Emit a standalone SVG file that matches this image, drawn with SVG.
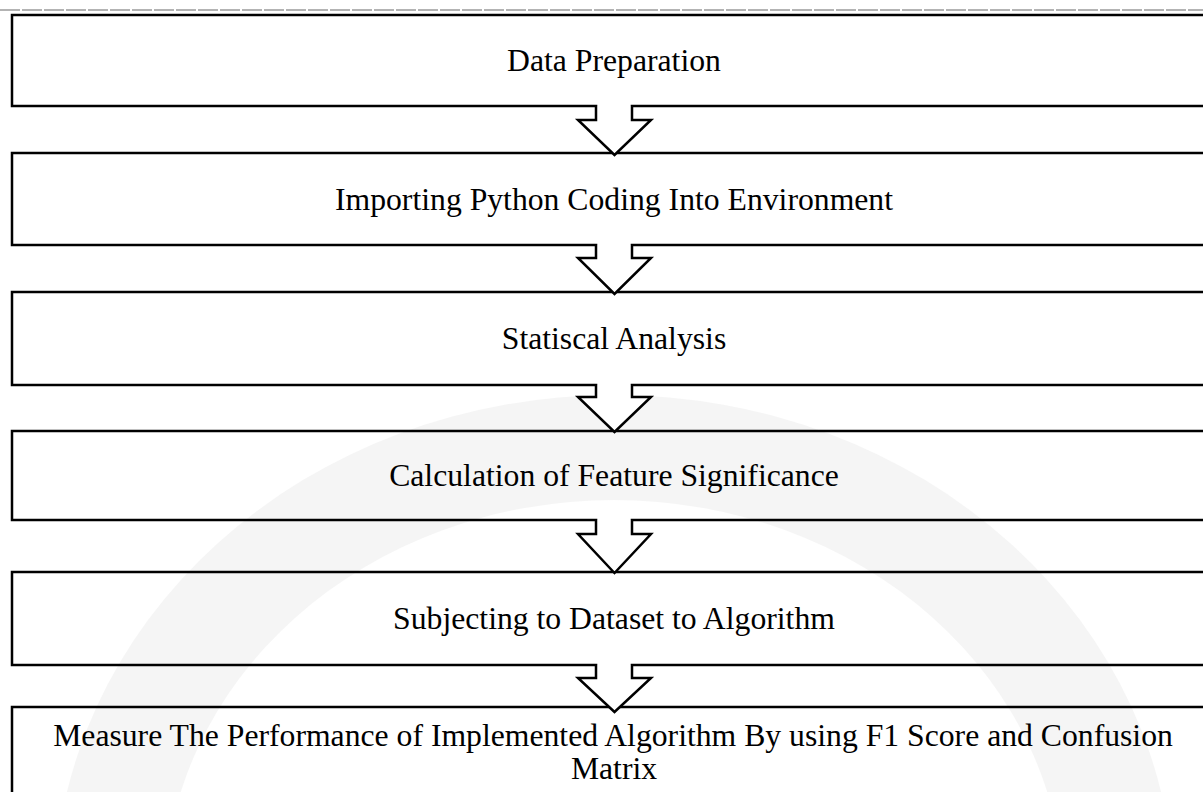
<svg xmlns="http://www.w3.org/2000/svg" width="1203" height="792" viewBox="0 0 1203 792">
  <style>
    .box { fill: none; stroke: #000; stroke-width: 2.5; }
    .arrow { fill: #fff; stroke: #000; stroke-width: 2.5; stroke-linejoin: miter; }
    .gap { fill: #fff; }
    .label { font-family: "Liberation Serif", "Times New Roman", serif; font-size: 31.7px; fill: #000; text-anchor: middle; }
  </style>
  <rect x="0" y="0" width="1203" height="792" fill="#fff"/>
  <g id="watermark" opacity="0.5">
    <path d="M 54 900 A 560 505 0 0 1 1174 900 L 1064 900 A 450 400 0 0 0 164 900 Z" fill="#ececec"/>
  </g>
  <line x1="0" y1="10" x2="1203" y2="10" stroke="#9a9a9a" stroke-width="1.5" stroke-dasharray="20 2"/>

  <g id="node-1">
    <rect class="box" x="12" y="15" width="1200" height="91"/>
    <text class="label" x="614" y="71">Data Preparation</text>
  </g>
  <g id="node-2">
    <rect class="box" x="12" y="153" width="1200" height="92"/>
    <text class="label" x="614" y="209.5">Importing Python Coding Into Environment</text>
  </g>
  <g id="node-3">
    <rect class="box" x="12" y="292" width="1200" height="93"/>
    <text class="label" x="614" y="349">Statiscal Analysis</text>
  </g>
  <g id="node-4">
    <rect class="box" x="12" y="431" width="1200" height="89"/>
    <text class="label" x="614" y="486">Calculation of Feature Significance</text>
  </g>
  <g id="node-5">
    <rect class="box" x="12" y="572" width="1200" height="93"/>
    <text class="label" x="614" y="629">Subjecting to Dataset to Algorithm</text>
  </g>
  <g id="node-6">
    <rect class="box" x="12" y="707" width="1200" height="120"/>
    <text class="label" x="613" y="746">Measure The Performance of Implemented Algorithm By using F1 Score and Confusion</text>
    <text class="label" x="614" y="779">Matrix</text>
  </g>

  <g id="connectors">
    <rect class="gap" x="597.3" y="104" width="33.4" height="4"/>
    <path class="arrow" d="M 596 106 L 596 120 L 578 120 L 614.5 155 L 651 120 L 632 120 L 632 106"/>
    <rect class="gap" x="597.3" y="243" width="33.4" height="4"/>
    <path class="arrow" d="M 596 245 L 596 258 L 578 258 L 614.5 294 L 651 258 L 632 258 L 632 245"/>
    <rect class="gap" x="597.3" y="383" width="33.4" height="4"/>
    <path class="arrow" d="M 596 385 L 596 397 L 578 397 L 614.5 432 L 651 397 L 632 397 L 632 385"/>
    <rect class="gap" x="597.3" y="518" width="33.4" height="4"/>
    <path class="arrow" d="M 596 520 L 596 534 L 578 534 L 614.5 573 L 651 534 L 632 534 L 632 520"/>
    <rect class="gap" x="597.3" y="663" width="33.4" height="4"/>
    <path class="arrow" d="M 596 665 L 596 678 L 578 678 L 614.5 712 L 651 678 L 632 678 L 632 665"/>
  </g>
</svg>
